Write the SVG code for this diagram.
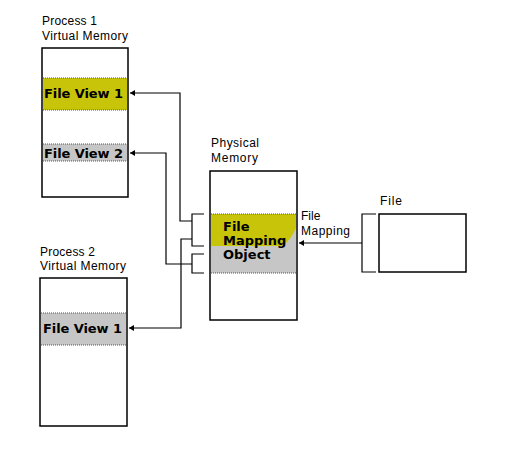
<svg xmlns="http://www.w3.org/2000/svg" width="512" height="450" viewBox="0 0 512 450">
<style>
.lbl{font-family:"Liberation Sans",Arial,sans-serif;font-size:12px;fill:#000}
.bold{font-family:"DejaVu Sans",Verdana,sans-serif;font-size:13px;font-weight:bold;fill:#000}
.box{fill:#fff;stroke:#000;stroke-width:1.5}
.yel{fill:#c8c40a}
.gry{fill:#c6c6c6}
.edge{stroke:#555;stroke-width:1.2;stroke-dasharray:1 1;fill:none}
.conn{fill:none;stroke:#000;stroke-width:1.2}
</style>
<defs>
<marker id="ah" markerWidth="6" markerHeight="6" refX="5" refY="3" orient="auto" markerUnits="userSpaceOnUse">
<path d="M0,0 L5,3 L0,6 Z" fill="#000"/>
</marker>
</defs>
<rect width="512" height="450" fill="#fff"/>

<g id="process1">
<text class="lbl" x="42" y="25" textLength="55">Process 1</text>
<text class="lbl" x="42" y="40" textLength="86">Virtual Memory</text>
<rect class="box" x="42" y="48" width="86" height="149"/>
<rect class="yel" x="43" y="78" width="84" height="32"/>
<line class="edge" x1="43" y1="78" x2="127" y2="78"/>
<line class="edge" x1="43" y1="110" x2="127" y2="110"/>
<text class="bold" x="44" y="98" textLength="79">File View 1</text>
<rect class="gry" x="43" y="144" width="84" height="17"/>
<line class="edge" x1="43" y1="144" x2="127" y2="144"/>
<line class="edge" x1="43" y1="161" x2="127" y2="161"/>
<text class="bold" x="44" y="158" textLength="79">File View 2</text>
</g>

<g id="process2">
<text class="lbl" x="40" y="256" textLength="55">Process 2</text>
<text class="lbl" x="40" y="270" textLength="86">Virtual Memory</text>
<rect class="box" x="40" y="278" width="87" height="148"/>
<rect class="gry" x="41" y="313" width="85" height="32"/>
<line class="edge" x1="41" y1="313" x2="126" y2="313"/>
<line class="edge" x1="41" y1="345" x2="126" y2="345"/>
<text class="bold" x="43" y="333" textLength="79">File View 1</text>
</g>

<g id="physical">
<text class="lbl" x="211" y="147" textLength="48">Physical</text>
<text class="lbl" x="211" y="162" textLength="47">Memory</text>
<rect class="box" x="210" y="171" width="87" height="149"/>
<rect class="gry" x="211" y="214" width="85" height="59"/>
<path class="yel" d="M211,214 H296 V228 C292,236 288,244 280,246 H211 Z"/>
<line class="edge" x1="211" y1="214" x2="296" y2="214"/>
<line class="edge" x1="211" y1="273" x2="296" y2="273"/>
<text class="bold" x="223" y="231">File</text>
<text class="bold" x="223" y="245">Mapping</text>
<text class="bold" x="223" y="259">Object</text>
<text class="lbl" x="301" y="220">File</text>
<text class="lbl" x="301" y="235" textLength="49">Mapping</text>
</g>

<g id="file">
<text class="lbl" x="380" y="205" textLength="22">File</text>
<rect class="box" x="379" y="214" width="87" height="58"/>
</g>

<g id="connectors">
<polyline class="conn" points="192,221 180,221 180,93 130,93" marker-end="url(#ah)"/>
<polyline class="conn" points="192,264 166,264 166,153 130,153" marker-end="url(#ah)"/>
<polyline class="conn" points="192,239 181,239 181,328 129,328" marker-end="url(#ah)"/>
<polyline class="conn" points="204,214 192,214 192,246 204,246"/>
<polyline class="conn" points="204,254 192,254 192,273 204,273"/>
<polyline class="conn" points="376,214 362,214 362,272 376,272"/>
<line class="conn" x1="362" y1="243" x2="299" y2="243" marker-end="url(#ah)"/>
</g>
</svg>
